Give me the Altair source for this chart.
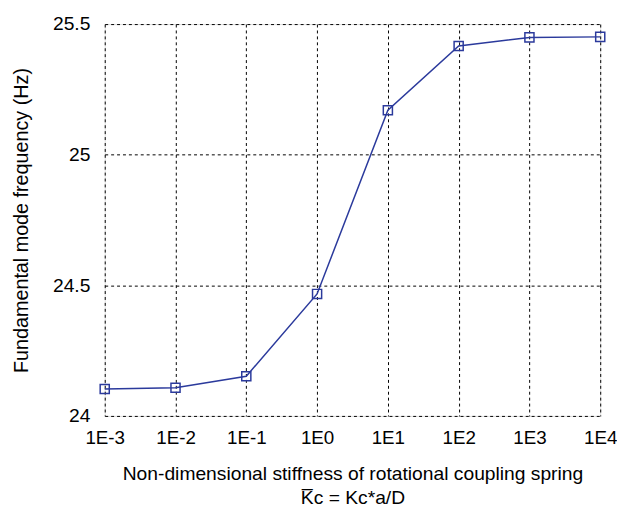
import altair as alt
import pandas as pd

exponents = [-3, -2, -1, 0, 1, 2, 3, 4]
freq_hz = [24.103, 24.108, 24.152, 24.467, 25.170, 25.416, 25.449, 25.451]

df = pd.DataFrame({"exp": exponents, "freq": freq_hz})

color = "#2b3a9c"
font = "Liberation Sans"

x = alt.X("exp:Q",
          scale=alt.Scale(domain=[-3, 4], nice=False, zero=False),
          axis=alt.Axis(values=exponents, labelExpr="'1E' + datum.value",
                        title=["Non-dimensional stiffness of rotational coupling spring",
                               "K\u0305c = Kc*a/D"],
                        grid=True, gridColor="black", gridDash=[3, 3], gridWidth=1,
                        tickSize=0, labelPadding=13, labelFontSize=19, labelFlush=False,
                        titleFontSize=19.5, titleFontWeight="normal", titlePadding=17,
                        titleLineHeight=25, domain=False,
                        labelColor="black", titleColor="black", labelFont=font,
                        titleFont=font))
y = alt.Y("freq:Q",
          scale=alt.Scale(domain=[24, 25.5], nice=False, zero=False),
          axis=alt.Axis(values=[24, 24.5, 25, 25.5], format="~g",
                        title="Fundamental mode frequency (Hz)",
                        grid=True, gridColor="black", gridDash=[3, 3], gridWidth=1,
                        tickSize=0, labelPadding=15, labelFontSize=19.5, labelFlush=False,
                        titleFontSize=20, titleFontWeight="normal", titlePadding=21,
                        domain=False,
                        labelColor="black", titleColor="black", labelFont=font,
                        titleFont=font))

line = alt.Chart(df).mark_line(color=color, strokeWidth=1.5).encode(x=x, y=y)
pts = alt.Chart(df).mark_point(shape="square", filled=False, color=color,
                               size=85, strokeWidth=1.5, opacity=1).encode(x=x, y=y)

chart = (line + pts).properties(
    width=502, height=397,
    autosize=alt.AutoSizeParams(type="none"),
    padding={"left": 98, "top": 13, "right": 17, "bottom": 90},
).configure_view(
    stroke="black", strokeWidth=2
).configure(background="white")

chart.save("out.html", embed_options={"renderer": "svg", "actions": False})
